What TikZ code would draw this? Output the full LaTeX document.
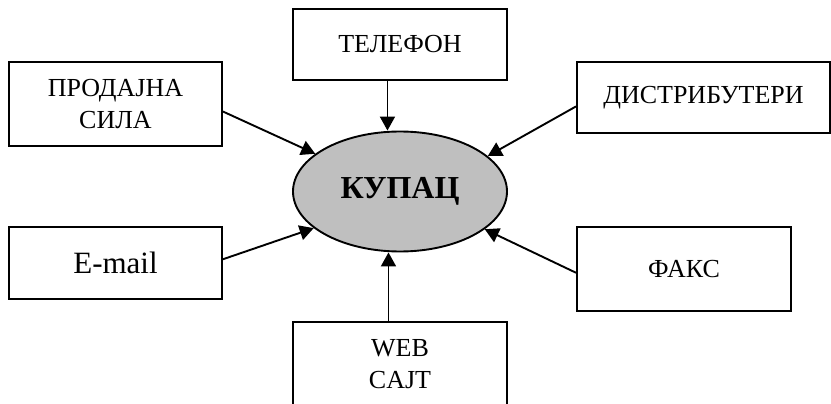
\documentclass[tikz,border=0pt]{standalone}
\usepackage{fontspec}
\setmainfont{Liberation Serif}
\usetikzlibrary{arrows.meta, shapes.geometric}

\begin{document}
\begin{tikzpicture}[x=1pt, y=-1pt, >={Triangle[length=14pt,width=15pt]},
                    box/.style = {draw, line width=1.9pt, rectangle, align=center, inner sep=0pt,
                                  font=\fontsize{26}{32}\selectfont},
                    buyer/.style = {draw, line width=1.9pt, ellipse, fill=black!25, inner sep=0pt,
                                    minimum width=214pt, minimum height=120pt,
                                    font=\fontsize{32}{38}\selectfont\bfseries},
                    link/.style = {->, line width=1.9pt}]
        \clip (0,0) rectangle (831,404);
        \node[buyer] (kupac) at (400,191.5) {КУПАЦ};
        \node[box, minimum width=214pt, minimum height=71pt] (tel) at (400,44.5) {ТЕЛЕФОН};
        \node[box, minimum width=213pt, minimum height=84pt] (prod) at (115.5,104) {ПРОДАЈНА\\СИЛА};
        \node[box, minimum width=253pt, minimum height=71pt] (dist) at (703.5,97.5) {ДИСТРИБУТЕРИ};
        \node[box, minimum width=213pt, minimum height=72pt, font=\fontsize{31}{36}\selectfont] (mail) at (115.5,263) {E-mail};
        \node[box, minimum width=214pt, minimum height=84pt] (fax) at (684,269) {ФАКС};
        \node[box, minimum width=214pt, minimum height=84pt] (web) at (400,364) {WEB\\CAJT};
        \draw[link] (tel.251.3) -- (tel.251.3 |- kupac.north);
        \draw[link] (prod.-4.3) -- (kupac.156.8);
        \draw[link] (dist.184.7) -- (kupac.22.7);
        \draw[link] (mail.2.2) -- (kupac.203.2);
        \draw[link] (fax.182.7) -- (kupac.336.2);
        \draw[link] (web.105.9) -- (web.105.9 |- kupac.south);
    \end{tikzpicture}
\end{document}
